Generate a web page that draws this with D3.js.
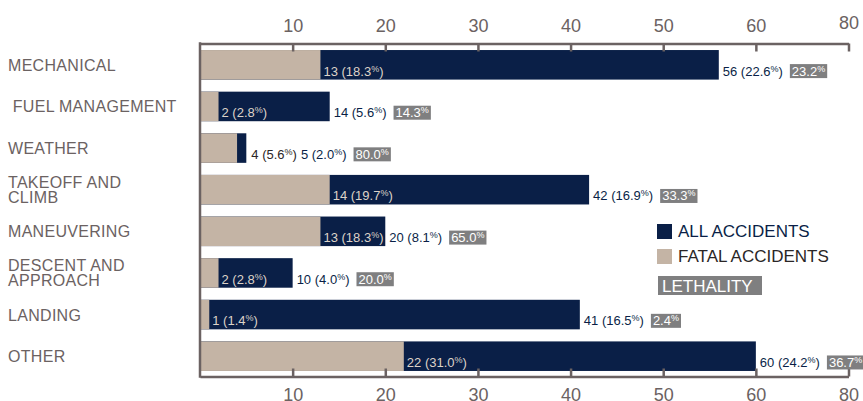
<!DOCTYPE html>
<html>
<head>
<meta charset="utf-8">
<script src="https://cdn.jsdelivr.net/npm/d3@7"></script>
<style>
  html, body { margin: 0; padding: 0; background: #fff; }
  svg { display: block; font-family: "Liberation Sans", Arial, Helvetica, sans-serif; }
</style>
</head>
<body>
<div id="chart"></div>
<script>
// categories (top to bottom), "\n" splits a label over two lines
const categories = ["MECHANICAL", " FUEL MANAGEMENT", "WEATHER", "TAKEOFF AND\nCLIMB",
  "MANEUVERING", "DESCENT AND\nAPPROACH", "LANDING", "OTHER"];
const allAccidents = [56, 14, 5, 42, 20, 10, 41, 60];
const allPct = ["22.6", "5.6", "2.0", "16.9", "8.1", "4.0", "16.5", "24.2"];
const fatalAccidents = [13, 2, 4, 14, 13, 2, 1, 22];
const fatalPct = ["18.3", "2.8", "5.6", "19.7", "18.3", "2.8", "1.4", "31.0"];
const lethality = ["23.2", "14.3", "80.0", "33.3", "65.0", "20.0", "2.4", "36.7"];
const tickValues = [10, 20, 30, 40, 50, 60, 70];
const tickLabels = ["10", "20", "30", "40", "50", "60", "80"];

const width = 863, height = 401;
const navy = "#0a1f47", tan = "#c4b4a5", grey = "#7f7f80", axisCol = "#6b6262";

const svg = d3.select("#chart").append("svg")
  .attr("width", width)
  .attr("height", height);

const x = d3.scaleLinear().domain([0, 70]).range([200, 848.5]);
const y = d3.scaleBand().domain(d3.range(categories.length))
  .range([44, 377]).paddingInner(0.29).paddingOuter(0.145);

const rows = categories.map((c, i) => ({
  i, name: c, all: allAccidents[i], allPct: allPct[i],
  fatal: fatalAccidents[i], fatalPct: fatalPct[i], leth: lethality[i]
}));

// bars: all accidents, fatal on top
svg.selectAll("rect.all").data(rows).enter().append("rect")
  .attr("class", "all")
  .attr("x", x(0)).attr("y", d => y(d.i))
  .attr("width", d => x(d.all) - x(0)).attr("height", y.bandwidth())
  .attr("fill", navy);

svg.selectAll("rect.fatal").data(rows).enter().append("rect")
  .attr("class", "fatal")
  .attr("x", x(0)).attr("y", d => y(d.i))
  .attr("width", d => x(d.fatal) - x(0)).attr("height", y.bandwidth())
  .attr("fill", tan);

// axes
const topAxis = svg.append("g").attr("transform", "translate(0,43.5)")
  .call(d3.axisTop(x).tickValues(tickValues).tickSizeInner(-8).tickSizeOuter(0)
    .tickPadding(12).tickFormat((d, i) => tickLabels[i]));
const bottomAxis = svg.append("g").attr("transform", "translate(0,376.5)")
  .call(d3.axisBottom(x).tickValues(tickValues).tickSizeInner(-8).tickSizeOuter(0)
    .tickPadding(12).tickFormat((d, i) => tickLabels[i]));

[topAxis, bottomAxis].forEach(g => {
  g.select(".domain").attr("stroke", axisCol).attr("stroke-width", 2.5);
  g.selectAll(".tick line").attr("stroke", axisCol).attr("stroke-width", 2.5);
  g.selectAll(".tick text").attr("fill", axisCol)
    .style("font-size", "18px").style("font-family", "Liberation Sans, Arial, sans-serif");
});
// the last label sits a bit higher on the top axis
topAxis.selectAll(".tick text").filter((d, i) => i === tickValues.length - 1).attr("dy", "-0.15em");

svg.append("line")
  .attr("x1", x(0)).attr("x2", x(0))
  .attr("y1", 42.3).attr("y2", 377.7)
  .attr("stroke", axisCol).attr("stroke-width", 2.5);

// category labels
svg.selectAll("text.cat").data(rows).enter().append("text")
  .attr("class", "cat")
  .attr("x", 8)
  .attr("fill", axisCol)
  .style("font-size", "16px")
  .style("letter-spacing", "0.3px")
  .style("white-space", "pre")
  .each(function (d) {
    const lines = d.name.split("\n");
    const cy = y(d.i) + y.bandwidth() / 2;
    const lh = 15;
    const first = cy - (lines.length - 1) * lh / 2 + 6;
    lines.forEach((l, k) => {
      d3.select(this).append("tspan").attr("x", 8).attr("y", first + k * lh).text(l);
    });
  });

// value text with a small superscript %
function pctLabel(g, count, pct, fill) {
  const t = g.append("text").attr("fill", fill).style("font-size", "13px");
  t.append("tspan").text(count + " (" + pct);
  t.append("tspan").text("%").style("font-size", "9px").attr("dy", "-4");
  t.append("tspan").text(")").attr("dy", "4");
  return t;
}

rows.forEach(d => {
  const g = svg.append("g");
  const base = y(d.i) + y.bandwidth() - 4;
  const inside = x(d.all) - x(d.fatal) > 30;

  const ft = pctLabel(g, d.fatal, d.fatalPct, inside ? "#ddd3c8" : "#2b2626");
  const fx = inside ? x(d.fatal) + 3 : x(d.all) + 5;
  ft.attr("x", fx).attr("y", base);
  const fw = ft.node().getComputedTextLength();

  const at = pctLabel(g, d.all, d.allPct, navy);
  const ax = inside ? x(d.all) + 4 : fx + fw + 4;
  at.attr("x", ax).attr("y", base);
  const aw = at.node().getComputedTextLength();

  const bx = ax + aw + 7;
  const lt = g.append("text").attr("fill", "#fff").style("font-size", "13px");
  lt.append("tspan").text(d.leth);
  lt.append("tspan").text("%").style("font-size", "9px").attr("dy", "-4");
  lt.attr("x", bx + 2).attr("y", base);
  const lw = lt.node().getComputedTextLength();
  g.insert("rect", "text:last-of-type")
    .attr("x", bx).attr("y", base - 11.5)
    .attr("width", lw + 4).attr("height", 14)
    .attr("fill", grey);
});

// legend
const legend = svg.append("g").attr("transform", "translate(657,224)");
legend.append("rect").attr("width", 15).attr("height", 15).attr("fill", navy);
legend.append("text").attr("x", 21).attr("y", 13).attr("fill", navy)
  .style("font-size", "17px").text("ALL ACCIDENTS");
legend.append("rect").attr("y", 25).attr("width", 15).attr("height", 15).attr("fill", tan);
legend.append("text").attr("x", 21).attr("y", 38).attr("fill", "#2a2626")
  .style("font-size", "17px").text("FATAL ACCIDENTS");
legend.append("rect").attr("x", 1).attr("y", 52).attr("width", 104).attr("height", 19).attr("fill", grey);
legend.append("text").attr("x", 5).attr("y", 68).attr("fill", "#fff")
  .style("font-size", "17px").text("LETHALITY");
</script>
</body>
</html>
